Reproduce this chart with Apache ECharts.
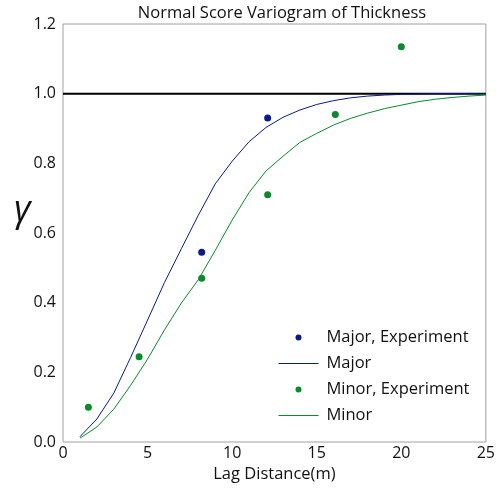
<!DOCTYPE html>
<html>
<head>
<meta charset="utf-8">
<script src="https://cdn.jsdelivr.net/npm/echarts@6/dist/echarts.min.js"></script>
<style>html,body{margin:0;padding:0;background:#fff}#c{width:498px;height:488px}</style>
</head>
<body>
<div id="c"></div>
<script>
const lags = [1,2,3,4,5,6,7,8,9,10,11,12,13,14,15,16,17,18,19,20,21,22,23,24,25];
const majorModel = [0.015,0.066,0.14,0.243,0.35,0.458,0.555,0.651,0.741,0.806,0.862,0.903,0.932,0.953,0.969,0.98,0.988,0.993,0.996,0.998,0.999,1.0,1.0,1.0,1.0];
const minorModel = [0.011,0.043,0.094,0.163,0.238,0.322,0.399,0.466,0.55,0.637,0.716,0.778,0.82,0.86,0.886,0.91,0.929,0.944,0.957,0.967,0.977,0.984,0.989,0.993,0.996];
const majorExpLag = [8.2,12.1];
const majorExpVal = [0.545,0.93];
const minorExpLag = [1.5,4.5,8.2,12.1,16.1,20.0];
const minorExpVal = [0.1,0.245,0.47,0.71,0.94,1.135];
const sill = 1.0;
const sillRange = [0,25];
const xTicks = [0,5,10,15,20,25];
const yTicks = [0.0,0.2,0.4,0.6,0.8,1.0,1.2];

const zip = (a,b) => a.map((v,i)=>[v,b[i]]);
const FONT = 'Open Sans';
const NAVY = '#0a1a8a', GREEN = '#0a8a2a';

const chart = echarts.init(document.getElementById('c'), null, {renderer:'canvas'});
chart.setOption({
  animation: false,
  backgroundColor: '#fff',
  title: {
    text: 'Normal Score Variogram of Thickness',
    left: 277, top: 0, textAlign: 'center',
    textStyle: {fontFamily: FONT, fontSize: 16.5, fontWeight: 'normal', color: '#111'}
  },
  grid: {left: 63, right: 7, top: 24, bottom: 45, show: true, borderColor: '#a0a0a0', borderWidth: 1, containLabel: false},
  xAxis: {
    type: 'value', min: xTicks[0], max: xTicks[xTicks.length-1], interval: 5,
    name: 'Lag Distance(m)', nameLocation: 'middle', nameGap: 24,
    nameTextStyle: {fontFamily: FONT, fontSize: 16.5, color: '#111'},
    axisLine: {show: false}, axisTick: {show: false}, splitLine: {show: false},
    axisLabel: {fontFamily: FONT, fontSize: 16, color: '#111', margin: 3}
  },
  yAxis: {
    type: 'value', min: yTicks[0], max: yTicks[yTicks.length-1], interval: 0.2,
    axisLine: {show: false}, axisTick: {show: false}, splitLine: {show: false},
    axisLabel: {fontFamily: FONT, fontSize: 16, color: '#111', margin: 7, formatter: v => v.toFixed(1)}
  },
  graphic: [{
    type: 'text', left: 14, top: 193,
    style: {text: 'γ', font: 'italic 36px "Open Sans"', fill: '#111'}
  }],
  legend: {
    left: 273, top: 324, orient: 'vertical',
    itemWidth: 40, itemHeight: 6, itemGap: 9,
    textStyle: {fontFamily: FONT, fontSize: 16.5, color: '#111', padding: [0,0,0,3]},
    data: [
      {name: 'Major, Experiment', icon: 'circle'},
      {name: 'Major', itemStyle: {opacity: 0}, lineStyle: {width: 1}},
      {name: 'Minor, Experiment', icon: 'circle'},
      {name: 'Minor', itemStyle: {opacity: 0}, lineStyle: {width: 1}}
    ]
  },
  series: [
    {name: 'sill', type: 'line', data: sillRange.map(x=>[x,sill]), showSymbol: false, silent: true,
     lineStyle: {color: '#000', width: 2}, z: 1},
    {name: 'Major', type: 'line', data: zip(lags, majorModel), showSymbol: false, symbol: 'none',
     lineStyle: {color: NAVY, width: 1}, itemStyle: {color: NAVY}, z: 2},
    {name: 'Minor', type: 'line', data: zip(lags, minorModel), showSymbol: false, symbol: 'none',
     lineStyle: {color: GREEN, width: 1}, itemStyle: {color: GREEN}, z: 2},
    {name: 'Major, Experiment', type: 'scatter', data: zip(majorExpLag, majorExpVal), symbolSize: 7,
     itemStyle: {color: NAVY, opacity: 1}, z: 3},
    {name: 'Minor, Experiment', type: 'scatter', data: zip(minorExpLag, minorExpVal), symbolSize: 7,
     itemStyle: {color: GREEN, opacity: 1}, z: 3}
  ]
});
</script>
</body>
</html>
